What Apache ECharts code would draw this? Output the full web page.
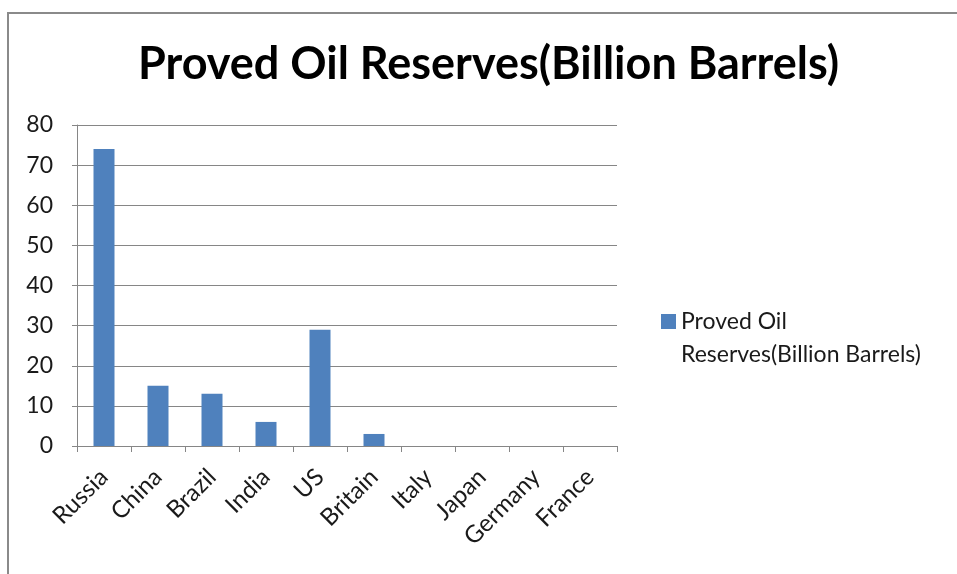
<!DOCTYPE html>
<html><head><meta charset="utf-8">
<script src="https://cdn.jsdelivr.net/npm/echarts@6/dist/echarts.min.js"></script>
<style>html,body{margin:0;padding:0;background:#fff}#chart{width:957px;height:574px}</style>
</head><body>
<div id="chart"></div>
<script>
// Proved oil reserves by country, billion barrels
const countries = ['Russia', 'China', 'Brazil', 'India', 'US', 'Britain', 'Italy', 'Japan', 'Germany', 'France'];
const reserves = [74, 15, 13, 6, 29, 3, 0, 0, 0, 0];
const seriesName = 'Proved Oil Reserves(Billion Barrels)';
const legendLines = ['Proved Oil', 'Reserves(Billion Barrels)'];
const yMin = 0, yMax = 80, yStep = 10;

const FONT = 'Lato, "Open Sans", sans-serif';
const chart = echarts.init(document.getElementById('chart'), null, { renderer: 'canvas' });

chart.setOption({
  animation: false,
  backgroundColor: '#ffffff',
  title: {
    text: seriesName,
    left: 138,
    top: 42,
    padding: 0,
    textStyle: { fontFamily: FONT, fontWeight: 'bold', fontSize: 45, color: '#000000' }
  },
  legend: {
    data: [seriesName],
    left: 661,
    top: 272,
    padding: 0,
    itemWidth: 15,
    itemHeight: 15,
    icon: 'rect',
    // blank first line keeps the swatch level with the first text line
    formatter: () => '\n' + legendLines.join('\n'),
    textStyle: { fontFamily: FONT, fontSize: 23, color: '#1a1a1a', lineHeight: 33 }
  },
  grid: { left: 77, top: 125, width: 540, height: 321, containLabel: false },
  xAxis: {
    type: 'category',
    data: countries,
    boundaryGap: true,
    axisLine: { show: true, lineStyle: { color: '#868686', width: 1 } },
    axisTick: { show: true, length: 6, lineStyle: { color: '#868686' } },
    axisLabel: {
      interval: 0, rotate: 45, margin: 27,
      fontFamily: FONT, fontSize: 24, color: '#1a1a1a'
    },
    splitLine: { show: false }
  },
  yAxis: {
    type: 'value',
    min: yMin, max: yMax, interval: yStep,
    axisLine: { show: true, lineStyle: { color: '#868686', width: 1 } },
    axisTick: { show: true, length: 5, lineStyle: { color: '#868686' } },
    axisLabel: { margin: 24, fontFamily: FONT, fontSize: 23, color: '#1a1a1a' },
    splitLine: { show: true, lineStyle: { color: '#868686', width: 1 } }
  },
  series: [{
    name: seriesName,
    type: 'bar',
    data: reserves,
    barWidth: 21,
    itemStyle: { color: '#4f81bd' }
  }],
  graphic: [{
    type: 'rect',
    shape: { x: 8, y: 13, width: 990, height: 620 },
    style: { fill: 'none', stroke: '#8a8a8a', lineWidth: 2 },
    silent: true
  }]
});
</script>
</body></html>
